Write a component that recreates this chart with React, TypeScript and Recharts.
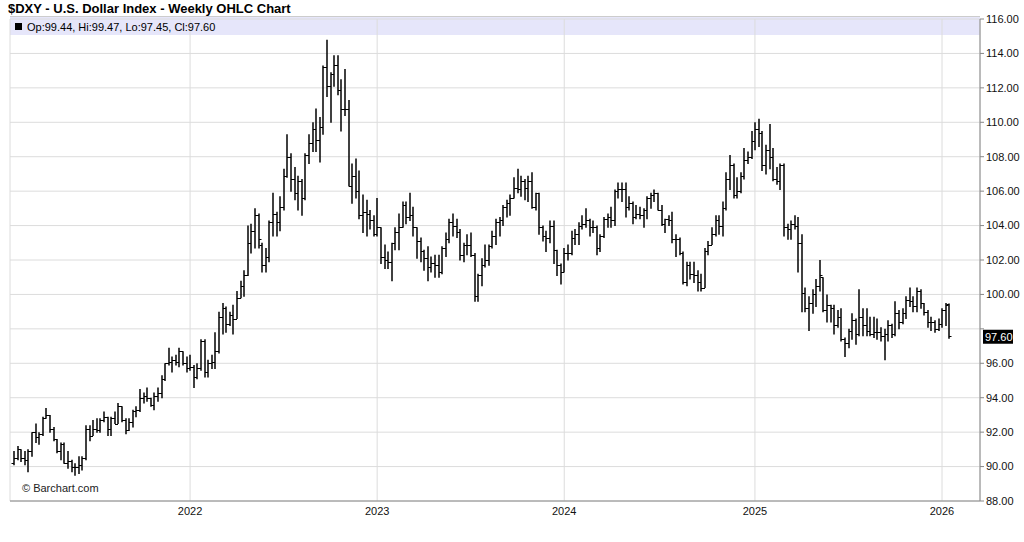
import { BarChart, Bar, XAxis, YAxis, CartesianGrid, ReferenceLine } from 'recharts'

// weekly bars, Monday dated, [open, high, low, close]
const firstWeek = Date.UTC(2021, 0, 25)

const ohlc2021 = [
  [90.2, 90.9, 90.1, 90.5], [90.5, 91.2, 90.4, 91.0], [91.0, 91.0, 90.3, 90.5], [90.5, 90.9, 90.1, 90.4],
  [90.4, 91.0, 89.7, 90.9], [90.9, 92.0, 90.6, 92.0], [92.0, 92.5, 91.4, 91.7], [91.7, 92.0, 91.3, 91.9],
  [91.9, 92.9, 91.8, 92.8], [92.8, 93.4, 92.8, 93.0], [93.0, 93.0, 92.0, 92.2], [92.2, 92.3, 91.5, 91.6],
  [91.6, 91.6, 90.8, 90.9], [90.9, 91.4, 90.4, 91.3], [91.3, 91.4, 90.2, 90.2], [90.2, 90.9, 89.9, 90.3],
  [90.3, 90.4, 89.7, 90.0], [90.0, 90.2, 89.5, 90.0], [90.0, 90.6, 89.6, 90.1], [90.1, 90.6, 89.8, 90.5],
  [90.5, 92.4, 90.4, 92.2], [92.2, 92.4, 91.5, 91.8], [91.8, 92.7, 91.8, 92.2], [92.2, 92.8, 92.0, 92.1],
  [92.1, 92.8, 92.0, 92.7], [92.7, 93.2, 92.6, 92.9], [92.9, 92.9, 91.8, 92.2], [92.2, 92.9, 91.8, 92.8],
  [92.8, 93.2, 92.5, 92.5], [92.5, 93.7, 92.5, 93.5], [93.5, 93.5, 92.6, 92.7], [92.7, 92.8, 91.9, 92.1],
  [92.1, 92.8, 92.1, 92.6], [92.6, 93.3, 92.3, 93.2], [93.2, 93.5, 92.9, 93.3], [93.3, 94.5, 93.2, 94.0],
  [94.0, 94.3, 93.7, 94.1], [94.1, 94.6, 93.8, 94.0], [94.0, 94.0, 93.5, 93.6], [93.6, 94.3, 93.3, 94.1],
  [94.1, 94.6, 93.8, 94.3], [94.3, 95.3, 94.0, 95.1], [95.1, 96.0, 95.0, 96.0], [96.0, 96.9, 95.9, 96.1],
  [96.1, 96.4, 95.5, 96.2], [96.2, 96.5, 95.9, 96.1], [96.1, 96.9, 95.8, 96.7], [96.7, 96.7, 95.9, 96.0],
  [96.0, 96.4, 95.5, 95.7],
]

const ohlc2022 = [
  [95.7, 96.5, 95.6, 95.8], [95.8, 95.9, 94.6, 95.2], [95.2, 96.0, 95.1, 95.7], [95.7, 97.4, 95.6, 97.3],
  [97.3, 97.4, 95.2, 95.5], [95.5, 96.2, 95.2, 96.0], [96.0, 96.5, 95.7, 96.1], [96.1, 97.8, 95.7, 96.7],
  [96.7, 99.0, 96.6, 98.7], [98.7, 99.5, 97.7, 99.2], [99.2, 99.3, 97.8, 98.3], [98.3, 99.0, 98.2, 98.8],
  [98.8, 99.4, 97.7, 98.6], [98.6, 100.2, 98.6, 99.8], [99.8, 100.8, 99.8, 100.5], [100.5, 101.4, 99.9, 101.1],
  [101.1, 104.0, 101.1, 103.0], [103.0, 104.1, 102.4, 103.7], [103.7, 105.0, 102.7, 104.6], [104.6, 104.7, 102.7, 103.2],
  [102.9, 103.0, 101.3, 101.7], [101.7, 102.7, 101.3, 102.2], [102.2, 104.3, 101.9, 104.2], [104.2, 105.9, 103.4, 104.7],
  [104.7, 104.8, 103.4, 104.2], [104.2, 105.7, 103.7, 105.1], [105.1, 107.3, 104.9, 106.9], [106.9, 109.3, 106.8, 108.0],
  [108.0, 108.2, 106.0, 106.7], [106.7, 107.4, 105.5, 105.9], [105.9, 106.9, 104.9, 106.6], [106.6, 106.7, 104.6, 105.6],
  [105.6, 108.2, 105.5, 108.1], [108.1, 109.3, 107.6, 108.8], [108.8, 110.0, 108.3, 109.6], [109.6, 110.8, 108.3, 109.0],
  [109.0, 110.3, 107.7, 109.7], [109.7, 113.3, 109.3, 113.2], [113.2, 114.8, 111.5, 112.1], [112.1, 112.9, 110.0, 112.8],
  [112.8, 113.9, 112.1, 113.3], [113.3, 113.9, 111.6, 111.9], [111.9, 112.5, 109.5, 110.8], [110.8, 113.1, 110.4, 110.8],
  [110.8, 111.3, 106.3, 106.3], [106.3, 107.6, 105.3, 106.9], [106.9, 107.9, 105.6, 106.0], [106.0, 107.2, 104.4, 104.6],
  [104.6, 105.8, 103.6, 104.8], [104.8, 105.5, 103.4, 104.7], [104.7, 104.9, 103.8, 104.3], [104.3, 104.6, 103.4, 103.5],
]

const ohlc2023 = [
  [103.5, 105.6, 103.4, 103.9], [103.9, 103.9, 101.8, 102.2], [102.2, 102.9, 101.5, 102.0], [102.0, 102.5, 101.5, 101.9],
  [101.9, 103.0, 100.8, 103.0], [103.0, 103.9, 102.6, 103.6], [103.6, 104.7, 102.6, 103.9], [103.9, 105.4, 103.9, 105.2],
  [105.2, 105.4, 104.1, 104.5], [104.5, 105.9, 104.3, 104.6], [104.6, 105.1, 103.4, 103.9], [103.9, 103.9, 102.1, 103.1],
  [103.1, 103.3, 101.9, 102.5], [102.5, 102.6, 101.4, 102.1], [102.1, 102.8, 100.8, 101.6], [101.6, 102.2, 101.3, 101.8],
  [101.8, 102.3, 101.0, 101.7], [101.7, 102.3, 101.0, 101.3], [101.3, 102.8, 101.2, 102.7], [102.7, 103.6, 102.2, 103.2],
  [103.2, 104.4, 103.0, 104.2], [104.2, 104.7, 103.4, 104.0], [104.0, 104.4, 103.3, 103.6], [103.6, 103.8, 102.0, 102.3],
  [102.3, 103.0, 101.9, 102.9], [102.9, 103.5, 102.3, 102.9], [102.9, 103.6, 102.2, 102.3], [102.3, 102.4, 99.6, 99.9],
  [99.9, 101.2, 99.6, 101.1], [101.1, 102.1, 100.5, 101.7], [101.7, 102.9, 101.6, 102.0], [102.0, 102.9, 101.7, 102.8],
  [102.8, 103.7, 102.7, 103.4], [103.4, 104.4, 102.9, 104.2], [104.2, 104.5, 103.4, 104.3], [104.3, 105.2, 104.0, 105.1],
  [105.1, 105.5, 104.5, 105.3], [105.3, 105.8, 104.6, 105.6], [105.6, 106.8, 105.6, 106.2], [106.2, 107.3, 105.9, 106.1],
  [106.1, 106.9, 105.7, 106.6], [106.6, 106.7, 105.5, 106.2], [106.2, 106.9, 105.4, 106.6], [106.6, 107.1, 105.0, 105.1],
  [105.1, 105.9, 104.9, 105.9], [105.9, 105.9, 103.5, 103.9], [103.9, 104.0, 103.1, 103.4], [103.4, 103.7, 102.5, 103.3],
  [103.3, 104.3, 103.0, 104.0], [104.0, 104.3, 101.8, 102.6], [102.6, 102.6, 101.1, 101.7], [101.7, 101.8, 100.6, 101.3],
]

const ohlc2024 = [
  [101.3, 102.7, 101.3, 102.4], [102.4, 102.9, 102.0, 102.4], [102.4, 103.7, 102.3, 103.3], [103.3, 103.8, 102.9, 103.5],
  [103.5, 104.2, 102.9, 104.0], [104.0, 104.6, 103.8, 104.1], [104.1, 105.0, 103.9, 104.3], [104.3, 104.4, 103.4, 103.9],
  [103.9, 104.3, 103.6, 103.9], [103.9, 104.0, 102.3, 102.7], [102.7, 103.5, 102.5, 103.4], [103.4, 104.5, 103.3, 104.4],
  [104.4, 104.7, 103.9, 104.5], [104.5, 105.1, 103.9, 104.3], [104.3, 106.1, 104.0, 106.0], [106.0, 106.5, 105.6, 106.1],
  [106.1, 106.5, 105.4, 106.1], [106.1, 106.5, 104.5, 105.1], [105.1, 105.7, 104.9, 105.3], [105.3, 105.4, 104.1, 104.5],
  [104.5, 105.2, 104.4, 104.7], [104.7, 105.1, 104.4, 104.6], [104.6, 105.0, 103.9, 104.9], [104.9, 105.7, 104.4, 105.6],
  [105.6, 105.9, 105.0, 105.8], [105.8, 106.1, 105.4, 105.9], [105.9, 105.9, 104.9, 104.9], [104.9, 105.2, 104.0, 104.1],
  [104.1, 104.4, 103.6, 104.4], [104.4, 104.6, 104.0, 104.3], [104.3, 104.8, 103.0, 103.2], [103.2, 103.5, 102.2, 103.2],
  [103.2, 103.3, 102.3, 102.4], [102.4, 102.5, 100.6, 100.7], [100.7, 101.9, 100.5, 101.7], [101.7, 101.9, 100.9, 101.2],
  [101.2, 101.9, 100.7, 101.1], [101.1, 101.4, 100.2, 100.7], [100.7, 101.2, 100.2, 100.4], [100.4, 102.7, 100.4, 102.5],
  [102.5, 103.1, 102.3, 102.9], [102.9, 103.9, 102.9, 103.5], [103.5, 104.6, 103.4, 104.3], [104.3, 104.6, 103.5, 104.0],
  [104.0, 105.4, 103.4, 105.0], [105.0, 107.1, 104.9, 106.7], [106.7, 108.1, 106.1, 107.5], [107.5, 107.6, 105.6, 105.8],
  [105.8, 106.8, 105.6, 106.0], [106.0, 107.1, 105.9, 106.9], [106.9, 108.5, 106.7, 107.8], [107.8, 108.3, 107.6, 108.0],
  [108.0, 109.5, 107.9, 108.9],
]

const ohlc2025 = [
  [108.9, 110.0, 108.4, 109.6], [109.6, 110.2, 108.6, 109.4], [109.4, 109.5, 107.2, 107.5], [107.5, 108.7, 107.0, 108.4],
  [108.4, 109.9, 107.3, 108.0], [108.0, 108.5, 106.6, 106.7], [106.7, 107.4, 106.4, 106.6], [106.6, 107.6, 106.1, 107.5],
  [107.5, 107.6, 103.4, 103.9], [103.9, 104.1, 103.2, 103.8], [103.8, 104.3, 103.2, 104.1], [104.1, 104.6, 103.8, 104.0],
  [104.0, 104.5, 101.3, 103.0], [103.0, 103.5, 99.0, 100.1], [100.1, 100.4, 99.0, 99.2], [99.2, 99.9, 97.9, 99.5],
  [99.5, 100.3, 98.9, 100.0], [100.0, 100.9, 99.3, 100.5], [100.5, 102.0, 100.2, 101.1], [101.0, 101.0, 99.0, 99.1],
  [99.1, 100.0, 98.4, 99.4], [99.4, 99.4, 98.4, 99.2], [99.2, 99.4, 97.7, 98.2], [98.2, 99.1, 98.1, 98.7],
  [98.7, 99.2, 97.3, 97.4], [97.4, 97.5, 96.4, 97.2], [97.2, 98.0, 96.9, 97.9], [97.9, 98.9, 97.4, 98.5],
  [98.5, 98.6, 97.1, 97.7], [97.7, 100.3, 97.6, 98.7], [98.7, 99.2, 97.6, 98.2], [98.2, 99.2, 97.6, 97.9],
  [97.9, 98.7, 97.6, 97.7], [97.7, 98.7, 97.5, 97.8], [97.8, 98.6, 97.4, 97.8], [97.8, 98.1, 97.3, 97.6],
  [97.6, 98.0, 96.2, 97.7], [97.7, 98.5, 97.3, 98.2], [98.2, 98.3, 97.5, 97.7], [97.7, 99.6, 97.6, 98.9],
  [98.9, 99.1, 98.0, 98.4], [98.4, 99.2, 98.3, 98.9], [98.9, 99.9, 98.6, 99.7], [99.7, 100.4, 99.3, 99.6],
  [99.6, 99.9, 99.0, 99.3], [99.3, 100.4, 99.0, 100.2], [100.2, 100.3, 99.2, 99.5], [99.5, 99.5, 98.8, 99.0],
  [99.0, 99.1, 98.1, 98.4], [98.4, 98.7, 97.9, 98.4], [98.4, 98.5, 97.8, 98.0], [98.0, 98.6, 97.9, 98.3],
]

const ohlc2026 = [
  [98.3, 99.2, 98.1, 99.1], [99.1, 99.5, 98.2, 99.4], [99.44, 99.47, 97.45, 97.6],
]

const yearLabels = ['2022', '2023', '2024', '2025', '2026']
const priceTicks = [88, 90, 92, 94, 96, 98, 100, 102, 104, 106, 108, 110, 112, 114, 116]
const lastClose = 97.6
const title = '$DXY - U.S. Dollar Index - Weekly OHLC Chart'
const legendText = 'Op:99.44, Hi:99.47, Lo:97.45, Cl:97.60'

const rows = [...ohlc2021, ...ohlc2022, ...ohlc2023, ...ohlc2024, ...ohlc2025, ...ohlc2026]
const data = rows.map(([o, h, l, c], i) => ({
  date: new Date(firstWeek + i * 7 * 86400000).toISOString().slice(0, 10),
  o, h, l, c,
  range: [l, h],
}))
const yearTicks = yearLabels.map((y) => data.find((d) => d.date.startsWith(y))!.date)

const FONT = 'Arial, "Liberation Sans", sans-serif'

function OhlcBar(props: any) {
  const { x, y, width, height, payload } = props
  if (x == null || y == null || !payload) return null
  const top = Math.min(y, y + height)
  const bottom = Math.max(y, y + height)
  const k = payload.h === payload.l ? 0 : (bottom - top) / (payload.h - payload.l)
  const cx = Math.round(x + width / 2)
  const yo = Math.round(top + (payload.h - payload.o) * k) + 0.5
  const yc = Math.round(top + (payload.h - payload.c) * k) + 0.5
  return (
    <g stroke="#000">
      <line x1={cx} x2={cx} y1={top} y2={bottom + 0.5} strokeWidth={1.5} />
      <line x1={cx - 2.5} x2={cx} y1={yo} y2={yo} strokeWidth={1} />
      <line x1={cx} x2={cx + 2.5} y1={yc} y2={yc} strokeWidth={1} />
    </g>
  )
}

function PriceBox(props: any) {
  const vb = props.viewBox
  if (!vb) return null
  const bx = vb.x + vb.width + 3
  const by = vb.y + 1
  return (
    <g>
      <rect x={bx} y={by - 7} width={30} height={14} fill="#000" />
      <text x={bx + 2} y={by} dy="0.36em" fill="#fff" fontSize={11} fontFamily={FONT}>
        {lastClose.toFixed(2)}
      </text>
    </g>
  )
}

function PriceTick(props: any) {
  const { x, y, payload } = props
  if (payload.value === 98) return null
  return (
    <text x={x} y={y} dy="0.355em" fill="#111" fontSize={11} fontFamily={FONT} textAnchor="start">
      {Number(payload.value).toFixed(2)}
    </text>
  )
}

export default function App() {
  return (
    <div style={{ position: 'relative', width: 1024, height: 542, background: '#fff', fontFamily: FONT, overflow: 'hidden' }}>
      <style>{'body{margin:0}'}</style>
      <div style={{ position: 'absolute', left: 10, top: 16, width: 970, height: 18, background: '#e6e6fa', borderTop: '1px solid #ccc' }} />
      <div style={{ position: 'absolute', left: 0, top: 0 }}>
        <BarChart width={1024} height={542} data={data} margin={{ top: 19, right: 0, bottom: 11, left: 10 }} barCategoryGap={0}>
          <CartesianGrid stroke="#dcdcdc" yAxisId="price" />
          <XAxis
            dataKey="date"
            ticks={yearTicks}
            interval={0}
            tickFormatter={(d: string) => d.slice(0, 4)}
            tickLine={false}
            tickSize={6}
            tickMargin={0}
            axisLine={{ stroke: '#888' }}
            tick={{ fontSize: 11, fill: '#111', fontFamily: FONT }}
            height={30}
            padding={{ left: 2, right: 29 }}
          />
          <YAxis yAxisId="left" orientation="left" width={0} domain={[88, 116]} tick={false} tickLine={false} axisLine={{ stroke: '#999' }} />
          <YAxis
            yAxisId="price"
            orientation="right"
            width={44}
            domain={[88, 116]}
            ticks={priceTicks}
            interval={0}
            tickSize={4}
            tickMargin={2}
            tickLine={{ stroke: '#888' }}
            axisLine={{ stroke: '#888' }}
            tick={<PriceTick />}
          />
          <Bar yAxisId="price" dataKey="range" shape={<OhlcBar />} isAnimationActive={false} />
          <ReferenceLine yAxisId="price" y={lastClose} stroke="none" ifOverflow="visible" label={<PriceBox />} />
        </BarChart>
      </div>
      <div style={{ position: 'absolute', left: 8, top: 1, fontSize: 13, fontWeight: 'bold', color: '#000', lineHeight: '15px' }}>{title}</div>
      <div style={{ position: 'absolute', left: 15, top: 23, width: 7, height: 7, background: '#000' }} />
      <div style={{ position: 'absolute', left: 27, top: 20, fontSize: 11, color: '#000', lineHeight: '14px' }}>{legendText}</div>
      <div style={{ position: 'absolute', left: 22, top: 481, fontSize: 11, color: '#222', lineHeight: '14px' }}>© Barchart.com</div>
    </div>
  )
}
